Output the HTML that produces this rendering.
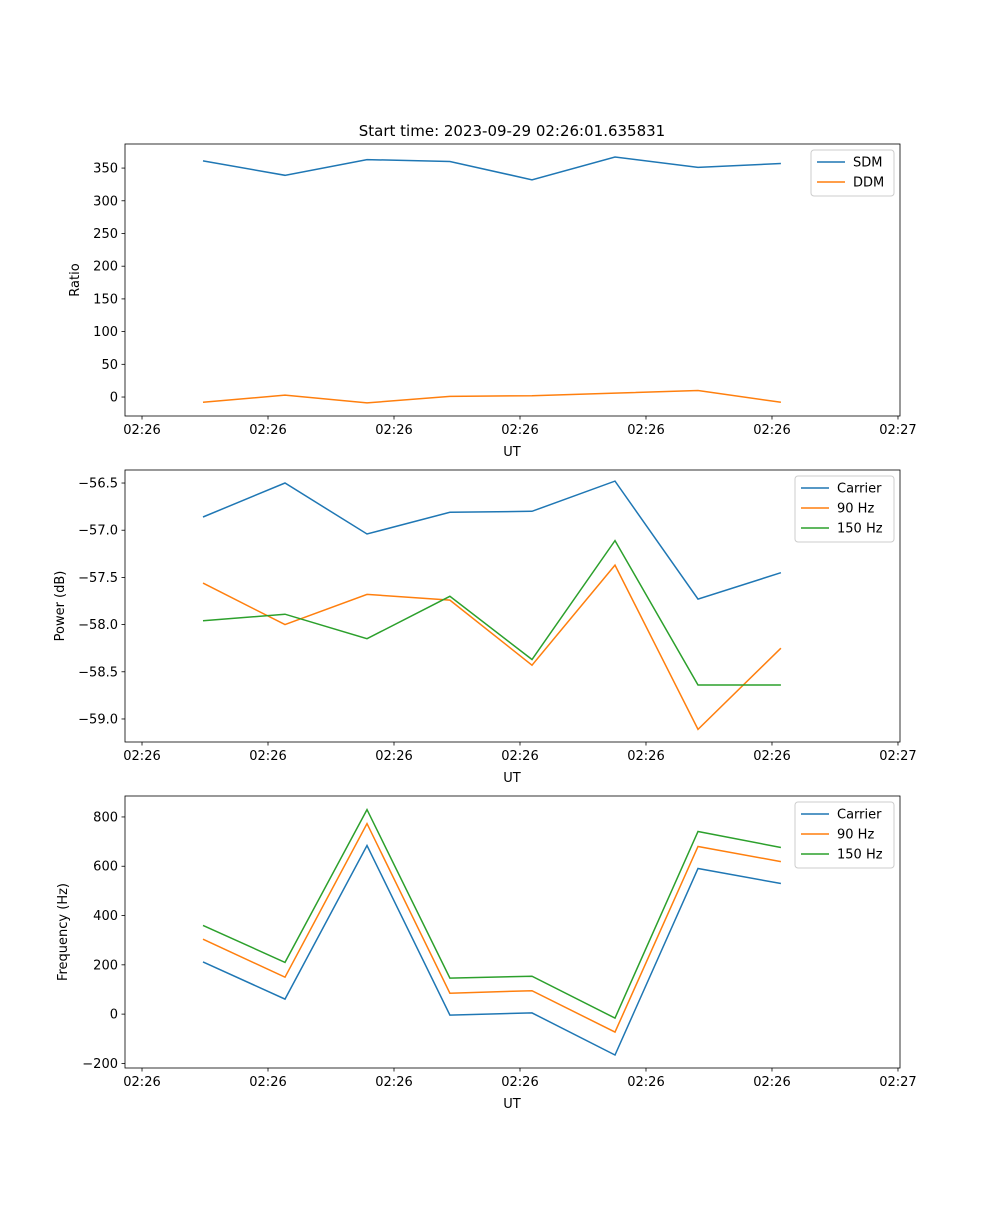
<!DOCTYPE html>
<html><head><meta charset="utf-8"><style>
body{margin:0;background:#fff;font-family:"Liberation Sans","DejaVu Sans",sans-serif;}
svg text{font-family:"DejaVu Sans","Liberation Sans",sans-serif;font-size:13px;fill:#000;}
</style></head><body>
<svg id="fig" width="1000" height="1200"></svg>
<script>
const times = [4.84, 11.35, 17.86, 24.44, 30.95, 37.54, 44.13, 50.71];
const xTicks = [0, 10, 20, 30, 40, 50, 60];
const xTickLabels = ["02:26","02:26","02:26","02:26","02:26","02:26","02:27"];
const sdm = [361, 339, 363, 360, 332, 367, 351, 357];
const ddm = [-8, 3, -9, 1, 2, 6, 10, -8];
const pCarrier = [-56.86, -56.50, -57.04, -56.81, -56.80, -56.48, -57.73, -57.45];
const p90 = [-57.56, -58.00, -57.68, -57.74, -58.43, -57.37, -59.11, -58.25];
const p150 = [-57.96, -57.89, -58.15, -57.70, -58.37, -57.11, -58.64, -58.64];
const fCarrier = [212, 61, 684, -4, 5, -166, 591, 530];
const f90 = [304, 150, 773, 85, 95, -73, 680, 619];
const f150 = [360, 210, 830, 146, 154, -16, 741, 676];
const ticks1 = [0, 50, 100, 150, 200, 250, 300, 350];
const ticks2 = [-59.0, -58.5, -58.0, -57.5, -57.0, -56.5];
const tickLabels2 = ["\u221259.0","\u221258.5","\u221258.0","\u221257.5","\u221257.0","\u221256.5"];
const ticks3 = [-200, 0, 200, 400, 600, 800];
const tickLabels3 = ["\u2212200","0","200","400","600","800"];

const NS="http://www.w3.org/2000/svg";
const svg=document.getElementById('fig');
function mk(tag,attrs,parent){const e=document.createElementNS(NS,tag);for(const k in attrs)e.setAttribute(k,attrs[k]);(parent||svg).appendChild(e);return e;}
const X0=125,X1=900,XMIN=-1.35,XMAX=60.16;
const xs=t=>X0+(t-XMIN)/(XMAX-XMIN)*(X1-X0);
const C=['#1f77b4','#ff7f0e','#2ca02c'];

function panel(name,top,bot,ymin,ymax,yt,ytl,series,names,ylabel,ylabX,legW){
  const g=mk('g',{});
  
  
  const ys=v=>bot-(v-ymin)/(ymax-ymin)*(bot-top);
  series.forEach((s,i)=>{
    const pl=mk('polyline',{points:s.map((v,j)=>xs(times[j]).toFixed(1)+','+ys(v).toFixed(1)).join(' '),fill:'none',stroke:C[i],'stroke-width':1.5},g);
    
    
  });
  const fr=mk('rect',{x:X0,y:top,width:X1-X0,height:bot-top,fill:'none',stroke:'#000','stroke-width':0.8},g);
  
  
  xTicks.forEach((t,i)=>{
    const x=xs(t);
    mk('line',{x1:x,x2:x,y1:bot,y2:bot+3.5,stroke:'#000','stroke-width':0.8},g);
    const tx=mk('text',{x:x,y:bot+18,'text-anchor':'middle'},g);tx.textContent=xTickLabels[i];
    
    
  });
  yt.forEach((v,i)=>{
    const y=ys(v);
    mk('line',{x1:X0-3.5,x2:X0,y1:y,y2:y,stroke:'#000','stroke-width':0.8},g);
    const tx=mk('text',{x:X0-7,y:y+4.5,'text-anchor':'end'},g);tx.textContent=ytl[i];
    
    
  });
  const xl=mk('text',{x:512,y:bot+40,'text-anchor':'middle'},g);xl.textContent='UT';
  
  
  const cy=(top+bot)/2;
  const yl=mk('text',{x:ylabX,y:cy,'text-anchor':'middle',transform:`rotate(-90 ${ylabX} ${cy})`},g);yl.textContent=ylabel;
  
  
  const lx=X1-6-legW, ly=top+6, lh=names.length*20+6;
  const lg=mk('g',{},g);
  
  
  mk('rect',{x:lx,y:ly,width:legW,height:lh,rx:3,fill:'#fff','fill-opacity':0.8,stroke:'#ccc'},lg);
  names.forEach((n,i)=>{
    const yy=ly+12+i*20;
    mk('line',{x1:lx+6,x2:lx+34,y1:yy,y2:yy,stroke:C[i],'stroke-width':1.5},lg);
    const t=mk('text',{x:lx+42,y:yy+4.5},lg);t.textContent=n;
    
    
  });
}
const title=mk('text',{x:512,y:136,'text-anchor':'middle',style:'font-size:15px'});
title.textContent='Start time: 2023-09-29 02:26:01.635831';


panel('ratio-panel',144,416,-29,386.8,ticks1,ticks1.map(String),[sdm,ddm],['SDM','DDM'],'Ratio',79,83);
panel('power-panel',470,742,-59.244,-56.362,ticks2,tickLabels2,[pCarrier,p90,p150],['Carrier','90 Hz','150 Hz'],'Power (dB)',64,99);
panel('frequency-panel',796,1068,-218.6,885,ticks3,tickLabels3,[fCarrier,f90,f150],['Carrier','90 Hz','150 Hz'],'Frequency (Hz)',67,99);
</script>
</body></html>
